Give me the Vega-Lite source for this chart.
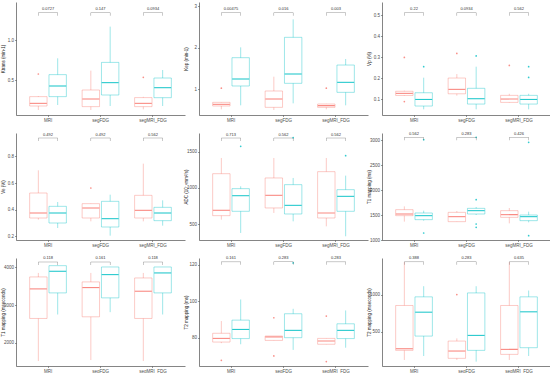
{
"$schema":"https://vega.github.io/schema/vega-lite/v6.json",
"padding":{"left":0,"top":2,"right":0,"bottom":0},
"autosize":{"type":"pad"},
"spacing":9,
"datasets":{
"box":[
{"p":"P1","g":"MRI","c":"A","lo":0.125,"q1":0.175,"md":0.208,"q3":0.292,"hi":0.30},
{"p":"P1","g":"MRI","c":"B","lo":0.1875,"q1":0.292,"md":0.425,"q3":0.567,"hi":0.771},
{"p":"P1","g":"segFDG","c":"A","lo":0.125,"q1":0.167,"md":0.2625,"q3":0.375,"hi":0.617},
{"p":"P1","g":"segFDG","c":"B","lo":0.175,"q1":0.3125,"md":0.467,"q3":0.72,"hi":1.167},
{"p":"P1","g":"segMRI_FDG","c":"A","lo":0.133,"q1":0.167,"md":0.208,"q3":0.28,"hi":0.29},
{"p":"P1","g":"segMRI_FDG","c":"B","lo":0.175,"q1":0.279,"md":0.404,"q3":0.525,"hi":0.625},
{"p":"P2","g":"MRI","c":"A","lo":0.508,"q1":0.589,"md":0.629,"q3":0.677,"hi":0.68},
{"p":"P2","g":"MRI","c":"B","lo":0.605,"q1":1.073,"md":1.242,"q3":1.758,"hi":2.008},
{"p":"P2","g":"segFDG","c":"A","lo":0.492,"q1":0.556,"md":0.758,"q3":0.952,"hi":1.298},
{"p":"P2","g":"segFDG","c":"B","lo":0.653,"q1":1.137,"md":1.363,"q3":2.25,"hi":2.685},
{"p":"P2","g":"segMRI_FDG","c":"A","lo":0.508,"q1":0.556,"md":0.597,"q3":0.637,"hi":0.64},
{"p":"P2","g":"segMRI_FDG","c":"B","lo":0.605,"q1":0.919,"md":1.161,"q3":1.58,"hi":1.726},
{"p":"P3","g":"MRI","c":"A","lo":0.115,"q1":0.117,"md":0.127,"q3":0.137,"hi":0.14},
{"p":"P3","g":"MRI","c":"B","lo":0.051,"q1":0.0667,"md":0.098,"q3":0.130,"hi":0.2016},
{"p":"P3","g":"segFDG","c":"A","lo":0.116,"q1":0.125,"md":0.146,"q3":0.2,"hi":0.219},
{"p":"P3","g":"segFDG","c":"B","lo":0.051,"q1":0.076,"md":0.1016,"q3":0.151,"hi":0.254},
{"p":"P3","g":"segMRI_FDG","c":"A","lo":0.083,"q1":0.084,"md":0.1,"q3":0.1175,"hi":0.125},
{"p":"P3","g":"segMRI_FDG","c":"B","lo":0.051,"q1":0.076,"md":0.098,"q3":0.1175,"hi":0.125},
{"p":"P4","g":"MRI","c":"A","lo":0.325,"q1":0.3375,"md":0.375,"q3":0.525,"hi":0.695},
{"p":"P4","g":"MRI","c":"B","lo":0.2625,"q1":0.3,"md":0.375,"q3":0.425,"hi":0.4575},
{"p":"P4","g":"segFDG","c":"A","lo":0.3125,"q1":0.3375,"md":0.4125,"q3":0.445,"hi":0.445},
{"p":"P4","g":"segFDG","c":"B","lo":0.205,"q1":0.27,"md":0.3325,"q3":0.4625,"hi":0.5125},
{"p":"P4","g":"segMRI_FDG","c":"A","lo":0.3125,"q1":0.3375,"md":0.395,"q3":0.5075,"hi":0.745},
{"p":"P4","g":"segMRI_FDG","c":"B","lo":0.28,"q1":0.3175,"md":0.375,"q3":0.4175,"hi":0.47},
{"p":"P5","g":"MRI","c":"A","lo":564,"q1":619,"md":693,"q3":1197,"hi":1413},
{"p":"P5","g":"MRI","c":"B","lo":381,"q1":679,"md":894,"q3":991,"hi":1023},
{"p":"P5","g":"segFDG","c":"A","lo":656,"q1":725,"md":899,"q3":1138,"hi":1413},
{"p":"P5","g":"segFDG","c":"B","lo":541,"q1":642,"md":761,"q3":1046,"hi":1138},
{"p":"P5","g":"segMRI_FDG","c":"A","lo":472,"q1":587,"md":656,"q3":1225,"hi":1413},
{"p":"P5","g":"segMRI_FDG","c":"B","lo":335,"q1":679,"md":885,"q3":977,"hi":1170},
{"p":"P6","g":"MRI","c":"A","lo":1367,"q1":1487,"md":1520,"q3":1607,"hi":1673},
{"p":"P6","g":"MRI","c":"B","lo":1387,"q1":1407,"md":1487,"q3":1540,"hi":1587},
{"p":"P6","g":"segFDG","c":"A","lo":1367,"q1":1367,"md":1467,"q3":1553,"hi":1580},
{"p":"P6","g":"segFDG","c":"B","lo":1500,"q1":1520,"md":1587,"q3":1633,"hi":1660},
{"p":"P6","g":"segMRI_FDG","c":"A","lo":1333,"q1":1453,"md":1507,"q3":1587,"hi":1640},
{"p":"P6","g":"segMRI_FDG","c":"B","lo":1353,"q1":1387,"md":1467,"q3":1500,"hi":1567},
{"p":"P7","g":"MRI","c":"A","lo":1520,"q1":2648,"md":3432,"q3":3749,"hi":3855},
{"p":"P7","g":"MRI","c":"B","lo":2753,"q1":3326,"md":3899,"q3":4048,"hi":4048},
{"p":"P7","g":"segFDG","c":"A","lo":1546,"q1":2692,"md":3467,"q3":3617,"hi":3855},
{"p":"P7","g":"segFDG","c":"B","lo":2815,"q1":3194,"md":3811,"q3":4013,"hi":4013},
{"p":"P7","g":"segMRI_FDG","c":"A","lo":1520,"q1":2648,"md":3370,"q3":3722,"hi":3855},
{"p":"P7","g":"segMRI_FDG","c":"B","lo":2753,"q1":3326,"md":3855,"q3":4013,"hi":4013},
{"p":"P8","g":"MRI","c":"A","lo":77,"q1":77.6,"md":79.6,"q3":82.4,"hi":89.1},
{"p":"P8","g":"MRI","c":"B","lo":76.4,"q1":79.5,"md":84.5,"q3":89.6,"hi":100.9},
{"p":"P8","g":"segFDG","c":"A","lo":78.5,"q1":78.5,"md":80.4,"q3":80.9,"hi":80.9},
{"p":"P8","g":"segFDG","c":"B","lo":73.3,"q1":80,"md":84,"q3":93.1,"hi":95.8},
{"p":"P8","g":"segMRI_FDG","c":"A","lo":76.4,"q1":76.4,"md":78.2,"q3":79.6,"hi":79.6},
{"p":"P8","g":"segMRI_FDG","c":"B","lo":74.5,"q1":79.5,"md":84,"q3":87.6,"hi":94.9},
{"p":"P9","g":"MRI","c":"A","lo":121,"q1":250,"md":272,"q3":853,"hi":1437},
{"p":"P9","g":"MRI","c":"B","lo":174,"q1":442,"md":763,"q3":969,"hi":1112},
{"p":"P9","g":"segFDG","c":"A","lo":121,"q1":143,"md":241,"q3":375,"hi":411},
{"p":"P9","g":"segFDG","c":"B","lo":98,"q1":250,"md":451,"q3":1022,"hi":1112},
{"p":"P9","g":"segMRI_FDG","c":"A","lo":121,"q1":196,"md":263,"q3":853,"hi":1437},
{"p":"P9","g":"segMRI_FDG","c":"B","lo":174,"q1":286,"md":768,"q3":969,"hi":1054}
],
"out":[
{"p":"P1","g":"MRI","c":"A","v":0.575},
{"p":"P1","g":"segMRI_FDG","c":"A","v":0.533},
{"p":"P2","g":"MRI","c":"A","v":1.02},
{"p":"P2","g":"segMRI_FDG","c":"A","v":1.02},
{"p":"P3","g":"MRI","c":"A","v":0.298},
{"p":"P3","g":"MRI","c":"A","v":0.088},
{"p":"P3","g":"MRI","c":"B","v":0.254},
{"p":"P3","g":"segFDG","c":"A","v":0.317},
{"p":"P3","g":"segFDG","c":"B","v":0.305},
{"p":"P3","g":"segMRI_FDG","c":"A","v":0.26},
{"p":"P3","g":"segMRI_FDG","c":"B","v":0.254},
{"p":"P3","g":"segMRI_FDG","c":"B","v":0.203},
{"p":"P4","g":"segFDG","c":"A","v":0.5625},
{"p":"P5","g":"MRI","c":"B","v":1573},
{"p":"P5","g":"segFDG","c":"B","v":1693},
{"p":"P5","g":"segMRI_FDG","c":"B","v":1445},
{"p":"P6","g":"MRI","c":"B","v":3007},
{"p":"P6","g":"MRI","c":"B","v":1140},
{"p":"P6","g":"segFDG","c":"B","v":3053},
{"p":"P6","g":"segFDG","c":"B","v":1807},
{"p":"P6","g":"segFDG","c":"B","v":1320},
{"p":"P6","g":"segFDG","c":"B","v":1253},
{"p":"P6","g":"segMRI_FDG","c":"B","v":2953},
{"p":"P6","g":"segMRI_FDG","c":"B","v":1087},
{"p":"P8","g":"MRI","c":"A","v":67.6},
{"p":"P8","g":"segFDG","c":"A","v":90.9},
{"p":"P8","g":"segFDG","c":"A","v":70},
{"p":"P8","g":"segFDG","c":"B","v":120.9},
{"p":"P8","g":"segMRI_FDG","c":"A","v":91.8},
{"p":"P8","g":"segMRI_FDG","c":"A","v":66.9},
{"p":"P9","g":"segFDG","c":"A","v":1000}
],
"pv":[
{"p":"P1","g":"MRI","b":1.342,"t":"0.0727"},
{"p":"P1","g":"segFDG","b":1.342,"t":"0.147"},
{"p":"P1","g":"segMRI_FDG","b":1.342,"t":"0.0934"},
{"p":"P2","g":"MRI","b":2.847,"t":"0.00475"},
{"p":"P2","g":"segFDG","b":2.847,"t":"0.016"},
{"p":"P2","g":"segMRI_FDG","b":2.847,"t":"0.003"},
{"p":"P3","g":"MRI","b":0.511,"t":"0.22"},
{"p":"P3","g":"segFDG","b":0.511,"t":"0.0934"},
{"p":"P3","g":"segMRI_FDG","b":0.511,"t":"0.562"},
{"p":"P4","g":"MRI","b":0.9375,"t":"0.492"},
{"p":"P4","g":"segFDG","b":0.9375,"t":"0.492"},
{"p":"P4","g":"segMRI_FDG","b":0.9375,"t":"0.562"},
{"p":"P5","g":"MRI","b":1688,"t":"0.713"},
{"p":"P5","g":"segFDG","b":1688,"t":"0.562"},
{"p":"P5","g":"segMRI_FDG","b":1688,"t":"0.562"},
{"p":"P6","g":"MRI","b":3053,"t":"0.562"},
{"p":"P6","g":"segFDG","b":3053,"t":"0.283"},
{"p":"P6","g":"segMRI_FDG","b":3053,"t":"0.426"},
{"p":"P7","g":"MRI","b":4145,"t":"0.118"},
{"p":"P7","g":"segFDG","b":4145,"t":"0.161"},
{"p":"P7","g":"segMRI_FDG","b":4145,"t":"0.118"},
{"p":"P8","g":"MRI","b":121.5,"t":"0.161"},
{"p":"P8","g":"segFDG","b":121.5,"t":"0.283"},
{"p":"P8","g":"segMRI_FDG","b":121.5,"t":"0.283"},
{"p":"P9","g":"MRI","b":1440,"t":"0.388"},
{"p":"P9","g":"segFDG","b":1440,"t":"0.283"},
{"p":"P9","g":"segMRI_FDG","b":1440,"t":"0.635"}
]
},
"vconcat":[
{"hconcat":[
{"width":169,"height":113,"resolve":{"axis":{"y":"independent"}},"encoding":{"x":{"field":"g","type":"nominal","sort":["MRI","segFDG","segMRI_FDG"],"scale":{"domain":["MRI","segFDG","segMRI_FDG"],"paddingInner":0.3,"paddingOuter":0.26},"axis":{"title":null,"labelAngle":0}}},
"layer":[
{"data":{"name":"box"},"transform":[{"filter":"datum.p=='P1'"}],"mark":{"type":"rule","strokeWidth":0.7,"opacity":0.55},"encoding":{"xOffset":{"field":"c","type":"nominal","scale":{"domain":["A","B"],"paddingInner":0.1}},"y":{"field":"lo","type":"quantitative","scale":{"domain":[0.0625,1.475],"nice":false,"zero":false},"axis":{"title":"Ktrans (min-1)","values":[0.5,1.0],"format":".1f"}},"y2":{"field":"hi"},"color":{"field":"c","type":"nominal","scale":{"domain":["A","B"],"range":["#F8766D","#00BFC4"]},"legend":null}}},
{"data":{"name":"box"},"transform":[{"filter":"datum.p=='P1'"}],"mark":{"type":"bar","fill":"white","strokeWidth":0.7,"strokeOpacity":0.55},"encoding":{"xOffset":{"field":"c","type":"nominal","scale":{"domain":["A","B"],"paddingInner":0.1}},"y":{"field":"q1","type":"quantitative","scale":{"domain":[0.0625,1.475],"nice":false,"zero":false},"axis":null},"y2":{"field":"q3"},"stroke":{"field":"c","type":"nominal","scale":{"domain":["A","B"],"range":["#F8766D","#00BFC4"]},"legend":null}}},
{"data":{"name":"box"},"transform":[{"filter":"datum.p=='P1'"}],"mark":{"type":"tick","orient":"horizontal","size":17,"thickness":1.1,"opacity":0.85},"encoding":{"xOffset":{"field":"c","type":"nominal","scale":{"domain":["A","B"],"paddingInner":0.1}},"y":{"field":"md","type":"quantitative","scale":{"domain":[0.0625,1.475],"nice":false,"zero":false},"axis":null},"color":{"field":"c","type":"nominal","scale":{"domain":["A","B"],"range":["#F8766D","#00BFC4"]},"legend":null}}},
{"data":{"name":"out"},"transform":[{"filter":"datum.p=='P1'"}],"mark":{"type":"circle","size":3,"opacity":0.8},"encoding":{"xOffset":{"field":"c","type":"nominal","scale":{"domain":["A","B"],"paddingInner":0.1}},"y":{"field":"v","type":"quantitative","scale":{"domain":[0.0625,1.475],"nice":false,"zero":false},"axis":null},"color":{"field":"c","type":"nominal","scale":{"domain":["A","B"],"range":["#F8766D","#00BFC4"]},"legend":null}}},
{"data":{"name":"pv"},"transform":[{"filter":"datum.p=='P1'"}],"mark":{"type":"tick","orient":"horizontal","size":19.3,"thickness":0.5,"color":"#666"},"encoding":{"y":{"field":"b","type":"quantitative","scale":{"domain":[0.0625,1.475],"nice":false,"zero":false},"axis":null}}},
{"data":{"name":"pv"},"transform":[{"filter":"datum.p=='P1'"}],"mark":{"type":"tick","orient":"vertical","size":3,"thickness":0.5,"xOffset":-9.7,"yOffset":1.5,"color":"#666"},"encoding":{"y":{"field":"b","type":"quantitative","scale":{"domain":[0.0625,1.475],"nice":false,"zero":false},"axis":null}}},
{"data":{"name":"pv"},"transform":[{"filter":"datum.p=='P1'"}],"mark":{"type":"tick","orient":"vertical","size":3,"thickness":0.5,"xOffset":9.7,"yOffset":1.5,"color":"#666"},"encoding":{"y":{"field":"b","type":"quantitative","scale":{"domain":[0.0625,1.475],"nice":false,"zero":false},"axis":null}}},
{"data":{"name":"pv"},"transform":[{"filter":"datum.p=='P1'"}],"mark":{"type":"text","fontSize":4,"dy":-3.5,"color":"#333"},"encoding":{"y":{"field":"b","type":"quantitative","scale":{"domain":[0.0625,1.475],"nice":false,"zero":false},"axis":null},"text":{"field":"t"}}}
]},
{"width":169,"height":113,"resolve":{"axis":{"y":"independent"}},"encoding":{"x":{"field":"g","type":"nominal","sort":["MRI","segFDG","segMRI_FDG"],"scale":{"domain":["MRI","segFDG","segMRI_FDG"],"paddingInner":0.3,"paddingOuter":0.26},"axis":{"title":null,"labelAngle":0}}},
"layer":[
{"data":{"name":"box"},"transform":[{"filter":"datum.p=='P2'"}],"mark":{"type":"rule","strokeWidth":0.7,"opacity":0.55},"encoding":{"xOffset":{"field":"c","type":"nominal","scale":{"domain":["A","B"],"paddingInner":0.1}},"y":{"field":"lo","type":"quantitative","scale":{"domain":[0.371,3.105],"nice":false,"zero":false},"axis":{"title":"Kep (min-1)","values":[1,2,3],"format":"d"}},"y2":{"field":"hi"},"color":{"field":"c","type":"nominal","scale":{"domain":["A","B"],"range":["#F8766D","#00BFC4"]},"legend":null}}},
{"data":{"name":"box"},"transform":[{"filter":"datum.p=='P2'"}],"mark":{"type":"bar","fill":"white","strokeWidth":0.7,"strokeOpacity":0.55},"encoding":{"xOffset":{"field":"c","type":"nominal","scale":{"domain":["A","B"],"paddingInner":0.1}},"y":{"field":"q1","type":"quantitative","scale":{"domain":[0.371,3.105],"nice":false,"zero":false},"axis":null},"y2":{"field":"q3"},"stroke":{"field":"c","type":"nominal","scale":{"domain":["A","B"],"range":["#F8766D","#00BFC4"]},"legend":null}}},
{"data":{"name":"box"},"transform":[{"filter":"datum.p=='P2'"}],"mark":{"type":"tick","orient":"horizontal","size":17,"thickness":1.1,"opacity":0.85},"encoding":{"xOffset":{"field":"c","type":"nominal","scale":{"domain":["A","B"],"paddingInner":0.1}},"y":{"field":"md","type":"quantitative","scale":{"domain":[0.371,3.105],"nice":false,"zero":false},"axis":null},"color":{"field":"c","type":"nominal","scale":{"domain":["A","B"],"range":["#F8766D","#00BFC4"]},"legend":null}}},
{"data":{"name":"out"},"transform":[{"filter":"datum.p=='P2'"}],"mark":{"type":"circle","size":3,"opacity":0.8},"encoding":{"xOffset":{"field":"c","type":"nominal","scale":{"domain":["A","B"],"paddingInner":0.1}},"y":{"field":"v","type":"quantitative","scale":{"domain":[0.371,3.105],"nice":false,"zero":false},"axis":null},"color":{"field":"c","type":"nominal","scale":{"domain":["A","B"],"range":["#F8766D","#00BFC4"]},"legend":null}}},
{"data":{"name":"pv"},"transform":[{"filter":"datum.p=='P2'"}],"mark":{"type":"tick","orient":"horizontal","size":19.3,"thickness":0.5,"color":"#666"},"encoding":{"y":{"field":"b","type":"quantitative","scale":{"domain":[0.371,3.105],"nice":false,"zero":false},"axis":null}}},
{"data":{"name":"pv"},"transform":[{"filter":"datum.p=='P2'"}],"mark":{"type":"tick","orient":"vertical","size":3,"thickness":0.5,"xOffset":-9.7,"yOffset":1.5,"color":"#666"},"encoding":{"y":{"field":"b","type":"quantitative","scale":{"domain":[0.371,3.105],"nice":false,"zero":false},"axis":null}}},
{"data":{"name":"pv"},"transform":[{"filter":"datum.p=='P2'"}],"mark":{"type":"tick","orient":"vertical","size":3,"thickness":0.5,"xOffset":9.7,"yOffset":1.5,"color":"#666"},"encoding":{"y":{"field":"b","type":"quantitative","scale":{"domain":[0.371,3.105],"nice":false,"zero":false},"axis":null}}},
{"data":{"name":"pv"},"transform":[{"filter":"datum.p=='P2'"}],"mark":{"type":"text","fontSize":4,"dy":-3.5,"color":"#333"},"encoding":{"y":{"field":"b","type":"quantitative","scale":{"domain":[0.371,3.105],"nice":false,"zero":false},"axis":null},"text":{"field":"t"}}}
]},
{"width":169,"height":113,"resolve":{"axis":{"y":"independent"}},"encoding":{"x":{"field":"g","type":"nominal","sort":["MRI","segFDG","segMRI_FDG"],"scale":{"domain":["MRI","segFDG","segMRI_FDG"],"paddingInner":0.3,"paddingOuter":0.26},"axis":{"title":null,"labelAngle":0}}},
"layer":[
{"data":{"name":"box"},"transform":[{"filter":"datum.p=='P3'"}],"mark":{"type":"rule","strokeWidth":0.7,"opacity":0.55},"encoding":{"xOffset":{"field":"c","type":"nominal","scale":{"domain":["A","B"],"paddingInner":0.1}},"y":{"field":"lo","type":"quantitative","scale":{"domain":[0.024,0.562],"nice":false,"zero":false},"axis":{"title":"Vp (%)","values":[0.1,0.2,0.3,0.4,0.5],"format":".1f"}},"y2":{"field":"hi"},"color":{"field":"c","type":"nominal","scale":{"domain":["A","B"],"range":["#F8766D","#00BFC4"]},"legend":null}}},
{"data":{"name":"box"},"transform":[{"filter":"datum.p=='P3'"}],"mark":{"type":"bar","fill":"white","strokeWidth":0.7,"strokeOpacity":0.55},"encoding":{"xOffset":{"field":"c","type":"nominal","scale":{"domain":["A","B"],"paddingInner":0.1}},"y":{"field":"q1","type":"quantitative","scale":{"domain":[0.024,0.562],"nice":false,"zero":false},"axis":null},"y2":{"field":"q3"},"stroke":{"field":"c","type":"nominal","scale":{"domain":["A","B"],"range":["#F8766D","#00BFC4"]},"legend":null}}},
{"data":{"name":"box"},"transform":[{"filter":"datum.p=='P3'"}],"mark":{"type":"tick","orient":"horizontal","size":17,"thickness":1.1,"opacity":0.85},"encoding":{"xOffset":{"field":"c","type":"nominal","scale":{"domain":["A","B"],"paddingInner":0.1}},"y":{"field":"md","type":"quantitative","scale":{"domain":[0.024,0.562],"nice":false,"zero":false},"axis":null},"color":{"field":"c","type":"nominal","scale":{"domain":["A","B"],"range":["#F8766D","#00BFC4"]},"legend":null}}},
{"data":{"name":"out"},"transform":[{"filter":"datum.p=='P3'"}],"mark":{"type":"circle","size":3,"opacity":0.8},"encoding":{"xOffset":{"field":"c","type":"nominal","scale":{"domain":["A","B"],"paddingInner":0.1}},"y":{"field":"v","type":"quantitative","scale":{"domain":[0.024,0.562],"nice":false,"zero":false},"axis":null},"color":{"field":"c","type":"nominal","scale":{"domain":["A","B"],"range":["#F8766D","#00BFC4"]},"legend":null}}},
{"data":{"name":"pv"},"transform":[{"filter":"datum.p=='P3'"}],"mark":{"type":"tick","orient":"horizontal","size":19.3,"thickness":0.5,"color":"#666"},"encoding":{"y":{"field":"b","type":"quantitative","scale":{"domain":[0.024,0.562],"nice":false,"zero":false},"axis":null}}},
{"data":{"name":"pv"},"transform":[{"filter":"datum.p=='P3'"}],"mark":{"type":"tick","orient":"vertical","size":3,"thickness":0.5,"xOffset":-9.7,"yOffset":1.5,"color":"#666"},"encoding":{"y":{"field":"b","type":"quantitative","scale":{"domain":[0.024,0.562],"nice":false,"zero":false},"axis":null}}},
{"data":{"name":"pv"},"transform":[{"filter":"datum.p=='P3'"}],"mark":{"type":"tick","orient":"vertical","size":3,"thickness":0.5,"xOffset":9.7,"yOffset":1.5,"color":"#666"},"encoding":{"y":{"field":"b","type":"quantitative","scale":{"domain":[0.024,0.562],"nice":false,"zero":false},"axis":null}}},
{"data":{"name":"pv"},"transform":[{"filter":"datum.p=='P3'"}],"mark":{"type":"text","fontSize":4,"dy":-3.5,"color":"#333"},"encoding":{"y":{"field":"b","type":"quantitative","scale":{"domain":[0.024,0.562],"nice":false,"zero":false},"axis":null},"text":{"field":"t"}}}
]}
],"spacing":14,"bounds":"flush"},
{"hconcat":[
{"width":169,"height":107,"resolve":{"axis":{"y":"independent"}},"encoding":{"x":{"field":"g","type":"nominal","sort":["MRI","segFDG","segMRI_FDG"],"scale":{"domain":["MRI","segFDG","segMRI_FDG"],"paddingInner":0.3,"paddingOuter":0.26},"axis":{"title":null,"labelAngle":0}}},
"layer":[
{"data":{"name":"box"},"transform":[{"filter":"datum.p=='P4'"}],"mark":{"type":"rule","strokeWidth":0.7,"opacity":0.55},"encoding":{"xOffset":{"field":"c","type":"nominal","scale":{"domain":["A","B"],"paddingInner":0.1}},"y":{"field":"lo","type":"quantitative","scale":{"domain":[0.1725,0.975],"nice":false,"zero":false},"axis":{"title":"Ve (%)","values":[0.2,0.4,0.6,0.8],"format":".1f"}},"y2":{"field":"hi"},"color":{"field":"c","type":"nominal","scale":{"domain":["A","B"],"range":["#F8766D","#00BFC4"]},"legend":null}}},
{"data":{"name":"box"},"transform":[{"filter":"datum.p=='P4'"}],"mark":{"type":"bar","fill":"white","strokeWidth":0.7,"strokeOpacity":0.55},"encoding":{"xOffset":{"field":"c","type":"nominal","scale":{"domain":["A","B"],"paddingInner":0.1}},"y":{"field":"q1","type":"quantitative","scale":{"domain":[0.1725,0.975],"nice":false,"zero":false},"axis":null},"y2":{"field":"q3"},"stroke":{"field":"c","type":"nominal","scale":{"domain":["A","B"],"range":["#F8766D","#00BFC4"]},"legend":null}}},
{"data":{"name":"box"},"transform":[{"filter":"datum.p=='P4'"}],"mark":{"type":"tick","orient":"horizontal","size":17,"thickness":1.1,"opacity":0.85},"encoding":{"xOffset":{"field":"c","type":"nominal","scale":{"domain":["A","B"],"paddingInner":0.1}},"y":{"field":"md","type":"quantitative","scale":{"domain":[0.1725,0.975],"nice":false,"zero":false},"axis":null},"color":{"field":"c","type":"nominal","scale":{"domain":["A","B"],"range":["#F8766D","#00BFC4"]},"legend":null}}},
{"data":{"name":"out"},"transform":[{"filter":"datum.p=='P4'"}],"mark":{"type":"circle","size":3,"opacity":0.8},"encoding":{"xOffset":{"field":"c","type":"nominal","scale":{"domain":["A","B"],"paddingInner":0.1}},"y":{"field":"v","type":"quantitative","scale":{"domain":[0.1725,0.975],"nice":false,"zero":false},"axis":null},"color":{"field":"c","type":"nominal","scale":{"domain":["A","B"],"range":["#F8766D","#00BFC4"]},"legend":null}}},
{"data":{"name":"pv"},"transform":[{"filter":"datum.p=='P4'"}],"mark":{"type":"tick","orient":"horizontal","size":19.3,"thickness":0.5,"color":"#666"},"encoding":{"y":{"field":"b","type":"quantitative","scale":{"domain":[0.1725,0.975],"nice":false,"zero":false},"axis":null}}},
{"data":{"name":"pv"},"transform":[{"filter":"datum.p=='P4'"}],"mark":{"type":"tick","orient":"vertical","size":3,"thickness":0.5,"xOffset":-9.7,"yOffset":1.5,"color":"#666"},"encoding":{"y":{"field":"b","type":"quantitative","scale":{"domain":[0.1725,0.975],"nice":false,"zero":false},"axis":null}}},
{"data":{"name":"pv"},"transform":[{"filter":"datum.p=='P4'"}],"mark":{"type":"tick","orient":"vertical","size":3,"thickness":0.5,"xOffset":9.7,"yOffset":1.5,"color":"#666"},"encoding":{"y":{"field":"b","type":"quantitative","scale":{"domain":[0.1725,0.975],"nice":false,"zero":false},"axis":null}}},
{"data":{"name":"pv"},"transform":[{"filter":"datum.p=='P4'"}],"mark":{"type":"text","fontSize":4,"dy":-3.5,"color":"#333"},"encoding":{"y":{"field":"b","type":"quantitative","scale":{"domain":[0.1725,0.975],"nice":false,"zero":false},"axis":null},"text":{"field":"t"}}}
]},
{"width":169,"height":107,"resolve":{"axis":{"y":"independent"}},"encoding":{"x":{"field":"g","type":"nominal","sort":["MRI","segFDG","segMRI_FDG"],"scale":{"domain":["MRI","segFDG","segMRI_FDG"],"paddingInner":0.3,"paddingOuter":0.26},"axis":{"title":null,"labelAngle":0}}},
"layer":[
{"data":{"name":"box"},"transform":[{"filter":"datum.p=='P5'"}],"mark":{"type":"rule","strokeWidth":0.7,"opacity":0.55},"encoding":{"xOffset":{"field":"c","type":"nominal","scale":{"domain":["A","B"],"paddingInner":0.1}},"y":{"field":"lo","type":"quantitative","scale":{"domain":[284,1757],"nice":false,"zero":false},"axis":{"title":"ADC (10⁻⁶mm²/s)","values":[500,1000,1500],"format":"d"}},"y2":{"field":"hi"},"color":{"field":"c","type":"nominal","scale":{"domain":["A","B"],"range":["#F8766D","#00BFC4"]},"legend":null}}},
{"data":{"name":"box"},"transform":[{"filter":"datum.p=='P5'"}],"mark":{"type":"bar","fill":"white","strokeWidth":0.7,"strokeOpacity":0.55},"encoding":{"xOffset":{"field":"c","type":"nominal","scale":{"domain":["A","B"],"paddingInner":0.1}},"y":{"field":"q1","type":"quantitative","scale":{"domain":[284,1757],"nice":false,"zero":false},"axis":null},"y2":{"field":"q3"},"stroke":{"field":"c","type":"nominal","scale":{"domain":["A","B"],"range":["#F8766D","#00BFC4"]},"legend":null}}},
{"data":{"name":"box"},"transform":[{"filter":"datum.p=='P5'"}],"mark":{"type":"tick","orient":"horizontal","size":17,"thickness":1.1,"opacity":0.85},"encoding":{"xOffset":{"field":"c","type":"nominal","scale":{"domain":["A","B"],"paddingInner":0.1}},"y":{"field":"md","type":"quantitative","scale":{"domain":[284,1757],"nice":false,"zero":false},"axis":null},"color":{"field":"c","type":"nominal","scale":{"domain":["A","B"],"range":["#F8766D","#00BFC4"]},"legend":null}}},
{"data":{"name":"out"},"transform":[{"filter":"datum.p=='P5'"}],"mark":{"type":"circle","size":3,"opacity":0.8},"encoding":{"xOffset":{"field":"c","type":"nominal","scale":{"domain":["A","B"],"paddingInner":0.1}},"y":{"field":"v","type":"quantitative","scale":{"domain":[284,1757],"nice":false,"zero":false},"axis":null},"color":{"field":"c","type":"nominal","scale":{"domain":["A","B"],"range":["#F8766D","#00BFC4"]},"legend":null}}},
{"data":{"name":"pv"},"transform":[{"filter":"datum.p=='P5'"}],"mark":{"type":"tick","orient":"horizontal","size":19.3,"thickness":0.5,"color":"#666"},"encoding":{"y":{"field":"b","type":"quantitative","scale":{"domain":[284,1757],"nice":false,"zero":false},"axis":null}}},
{"data":{"name":"pv"},"transform":[{"filter":"datum.p=='P5'"}],"mark":{"type":"tick","orient":"vertical","size":3,"thickness":0.5,"xOffset":-9.7,"yOffset":1.5,"color":"#666"},"encoding":{"y":{"field":"b","type":"quantitative","scale":{"domain":[284,1757],"nice":false,"zero":false},"axis":null}}},
{"data":{"name":"pv"},"transform":[{"filter":"datum.p=='P5'"}],"mark":{"type":"tick","orient":"vertical","size":3,"thickness":0.5,"xOffset":9.7,"yOffset":1.5,"color":"#666"},"encoding":{"y":{"field":"b","type":"quantitative","scale":{"domain":[284,1757],"nice":false,"zero":false},"axis":null}}},
{"data":{"name":"pv"},"transform":[{"filter":"datum.p=='P5'"}],"mark":{"type":"text","fontSize":4,"dy":-3.5,"color":"#333"},"encoding":{"y":{"field":"b","type":"quantitative","scale":{"domain":[284,1757],"nice":false,"zero":false},"axis":null},"text":{"field":"t"}}}
]},
{"width":169,"height":107,"resolve":{"axis":{"y":"independent"}},"encoding":{"x":{"field":"g","type":"nominal","sort":["MRI","segFDG","segMRI_FDG"],"scale":{"domain":["MRI","segFDG","segMRI_FDG"],"paddingInner":0.3,"paddingOuter":0.26},"axis":{"title":null,"labelAngle":0}}},
"layer":[
{"data":{"name":"box"},"transform":[{"filter":"datum.p=='P6'"}],"mark":{"type":"rule","strokeWidth":0.7,"opacity":0.55},"encoding":{"xOffset":{"field":"c","type":"nominal","scale":{"domain":["A","B"],"paddingInner":0.1}},"y":{"field":"lo","type":"quantitative","scale":{"domain":[1000,3140],"nice":false,"zero":false},"axis":{"title":"T1 mapping (ms)","values":[1000,1500,2000,2500,3000],"format":"d"}},"y2":{"field":"hi"},"color":{"field":"c","type":"nominal","scale":{"domain":["A","B"],"range":["#F8766D","#00BFC4"]},"legend":null}}},
{"data":{"name":"box"},"transform":[{"filter":"datum.p=='P6'"}],"mark":{"type":"bar","fill":"white","strokeWidth":0.7,"strokeOpacity":0.55},"encoding":{"xOffset":{"field":"c","type":"nominal","scale":{"domain":["A","B"],"paddingInner":0.1}},"y":{"field":"q1","type":"quantitative","scale":{"domain":[1000,3140],"nice":false,"zero":false},"axis":null},"y2":{"field":"q3"},"stroke":{"field":"c","type":"nominal","scale":{"domain":["A","B"],"range":["#F8766D","#00BFC4"]},"legend":null}}},
{"data":{"name":"box"},"transform":[{"filter":"datum.p=='P6'"}],"mark":{"type":"tick","orient":"horizontal","size":17,"thickness":1.1,"opacity":0.85},"encoding":{"xOffset":{"field":"c","type":"nominal","scale":{"domain":["A","B"],"paddingInner":0.1}},"y":{"field":"md","type":"quantitative","scale":{"domain":[1000,3140],"nice":false,"zero":false},"axis":null},"color":{"field":"c","type":"nominal","scale":{"domain":["A","B"],"range":["#F8766D","#00BFC4"]},"legend":null}}},
{"data":{"name":"out"},"transform":[{"filter":"datum.p=='P6'"}],"mark":{"type":"circle","size":3,"opacity":0.8},"encoding":{"xOffset":{"field":"c","type":"nominal","scale":{"domain":["A","B"],"paddingInner":0.1}},"y":{"field":"v","type":"quantitative","scale":{"domain":[1000,3140],"nice":false,"zero":false},"axis":null},"color":{"field":"c","type":"nominal","scale":{"domain":["A","B"],"range":["#F8766D","#00BFC4"]},"legend":null}}},
{"data":{"name":"pv"},"transform":[{"filter":"datum.p=='P6'"}],"mark":{"type":"tick","orient":"horizontal","size":19.3,"thickness":0.5,"color":"#666"},"encoding":{"y":{"field":"b","type":"quantitative","scale":{"domain":[1000,3140],"nice":false,"zero":false},"axis":null}}},
{"data":{"name":"pv"},"transform":[{"filter":"datum.p=='P6'"}],"mark":{"type":"tick","orient":"vertical","size":3,"thickness":0.5,"xOffset":-9.7,"yOffset":1.5,"color":"#666"},"encoding":{"y":{"field":"b","type":"quantitative","scale":{"domain":[1000,3140],"nice":false,"zero":false},"axis":null}}},
{"data":{"name":"pv"},"transform":[{"filter":"datum.p=='P6'"}],"mark":{"type":"tick","orient":"vertical","size":3,"thickness":0.5,"xOffset":9.7,"yOffset":1.5,"color":"#666"},"encoding":{"y":{"field":"b","type":"quantitative","scale":{"domain":[1000,3140],"nice":false,"zero":false},"axis":null}}},
{"data":{"name":"pv"},"transform":[{"filter":"datum.p=='P6'"}],"mark":{"type":"text","fontSize":4,"dy":-3.5,"color":"#333"},"encoding":{"y":{"field":"b","type":"quantitative","scale":{"domain":[1000,3140],"nice":false,"zero":false},"axis":null},"text":{"field":"t"}}}
]}
],"spacing":14,"bounds":"flush"},
{"hconcat":[
{"width":169,"height":108,"resolve":{"axis":{"y":"independent"}},"encoding":{"x":{"field":"g","type":"nominal","sort":["MRI","segFDG","segMRI_FDG"],"scale":{"domain":["MRI","segFDG","segMRI_FDG"],"paddingInner":0.3,"paddingOuter":0.26},"axis":{"title":null,"labelAngle":0}}},
"layer":[
{"data":{"name":"box"},"transform":[{"filter":"datum.p=='P7'"}],"mark":{"type":"rule","strokeWidth":0.7,"opacity":0.55},"encoding":{"xOffset":{"field":"c","type":"nominal","scale":{"domain":["A","B"],"paddingInner":0.1}},"y":{"field":"lo","type":"quantitative","scale":{"domain":[1388,4251],"nice":false,"zero":false},"axis":{"title":"T1 mapping (mseconds)","values":[2000,3000,4000],"format":"d"}},"y2":{"field":"hi"},"color":{"field":"c","type":"nominal","scale":{"domain":["A","B"],"range":["#F8766D","#00BFC4"]},"legend":null}}},
{"data":{"name":"box"},"transform":[{"filter":"datum.p=='P7'"}],"mark":{"type":"bar","fill":"white","strokeWidth":0.7,"strokeOpacity":0.55},"encoding":{"xOffset":{"field":"c","type":"nominal","scale":{"domain":["A","B"],"paddingInner":0.1}},"y":{"field":"q1","type":"quantitative","scale":{"domain":[1388,4251],"nice":false,"zero":false},"axis":null},"y2":{"field":"q3"},"stroke":{"field":"c","type":"nominal","scale":{"domain":["A","B"],"range":["#F8766D","#00BFC4"]},"legend":null}}},
{"data":{"name":"box"},"transform":[{"filter":"datum.p=='P7'"}],"mark":{"type":"tick","orient":"horizontal","size":17,"thickness":1.1,"opacity":0.85},"encoding":{"xOffset":{"field":"c","type":"nominal","scale":{"domain":["A","B"],"paddingInner":0.1}},"y":{"field":"md","type":"quantitative","scale":{"domain":[1388,4251],"nice":false,"zero":false},"axis":null},"color":{"field":"c","type":"nominal","scale":{"domain":["A","B"],"range":["#F8766D","#00BFC4"]},"legend":null}}},
{"data":{"name":"pv"},"transform":[{"filter":"datum.p=='P7'"}],"mark":{"type":"tick","orient":"horizontal","size":19.3,"thickness":0.5,"color":"#666"},"encoding":{"y":{"field":"b","type":"quantitative","scale":{"domain":[1388,4251],"nice":false,"zero":false},"axis":null}}},
{"data":{"name":"pv"},"transform":[{"filter":"datum.p=='P7'"}],"mark":{"type":"tick","orient":"vertical","size":3,"thickness":0.5,"xOffset":-9.7,"yOffset":1.5,"color":"#666"},"encoding":{"y":{"field":"b","type":"quantitative","scale":{"domain":[1388,4251],"nice":false,"zero":false},"axis":null}}},
{"data":{"name":"pv"},"transform":[{"filter":"datum.p=='P7'"}],"mark":{"type":"tick","orient":"vertical","size":3,"thickness":0.5,"xOffset":9.7,"yOffset":1.5,"color":"#666"},"encoding":{"y":{"field":"b","type":"quantitative","scale":{"domain":[1388,4251],"nice":false,"zero":false},"axis":null}}},
{"data":{"name":"pv"},"transform":[{"filter":"datum.p=='P7'"}],"mark":{"type":"text","fontSize":4,"dy":-3.5,"color":"#333"},"encoding":{"y":{"field":"b","type":"quantitative","scale":{"domain":[1388,4251],"nice":false,"zero":false},"axis":null},"text":{"field":"t"}}}
]},
{"width":169,"height":108,"resolve":{"axis":{"y":"independent"}},"encoding":{"x":{"field":"g","type":"nominal","sort":["MRI","segFDG","segMRI_FDG"],"scale":{"domain":["MRI","segFDG","segMRI_FDG"],"paddingInner":0.3,"paddingOuter":0.26},"axis":{"title":null,"labelAngle":0}}},
"layer":[
{"data":{"name":"box"},"transform":[{"filter":"datum.p=='P8'"}],"mark":{"type":"rule","strokeWidth":0.7,"opacity":0.55},"encoding":{"xOffset":{"field":"c","type":"nominal","scale":{"domain":["A","B"],"paddingInner":0.1}},"y":{"field":"lo","type":"quantitative","scale":{"domain":[64.5,123.6],"nice":false,"zero":false},"axis":{"title":"T2 mapping (ms)","values":[80,100,120],"format":"d"}},"y2":{"field":"hi"},"color":{"field":"c","type":"nominal","scale":{"domain":["A","B"],"range":["#F8766D","#00BFC4"]},"legend":null}}},
{"data":{"name":"box"},"transform":[{"filter":"datum.p=='P8'"}],"mark":{"type":"bar","fill":"white","strokeWidth":0.7,"strokeOpacity":0.55},"encoding":{"xOffset":{"field":"c","type":"nominal","scale":{"domain":["A","B"],"paddingInner":0.1}},"y":{"field":"q1","type":"quantitative","scale":{"domain":[64.5,123.6],"nice":false,"zero":false},"axis":null},"y2":{"field":"q3"},"stroke":{"field":"c","type":"nominal","scale":{"domain":["A","B"],"range":["#F8766D","#00BFC4"]},"legend":null}}},
{"data":{"name":"box"},"transform":[{"filter":"datum.p=='P8'"}],"mark":{"type":"tick","orient":"horizontal","size":17,"thickness":1.1,"opacity":0.85},"encoding":{"xOffset":{"field":"c","type":"nominal","scale":{"domain":["A","B"],"paddingInner":0.1}},"y":{"field":"md","type":"quantitative","scale":{"domain":[64.5,123.6],"nice":false,"zero":false},"axis":null},"color":{"field":"c","type":"nominal","scale":{"domain":["A","B"],"range":["#F8766D","#00BFC4"]},"legend":null}}},
{"data":{"name":"out"},"transform":[{"filter":"datum.p=='P8'"}],"mark":{"type":"circle","size":3,"opacity":0.8},"encoding":{"xOffset":{"field":"c","type":"nominal","scale":{"domain":["A","B"],"paddingInner":0.1}},"y":{"field":"v","type":"quantitative","scale":{"domain":[64.5,123.6],"nice":false,"zero":false},"axis":null},"color":{"field":"c","type":"nominal","scale":{"domain":["A","B"],"range":["#F8766D","#00BFC4"]},"legend":null}}},
{"data":{"name":"pv"},"transform":[{"filter":"datum.p=='P8'"}],"mark":{"type":"tick","orient":"horizontal","size":19.3,"thickness":0.5,"color":"#666"},"encoding":{"y":{"field":"b","type":"quantitative","scale":{"domain":[64.5,123.6],"nice":false,"zero":false},"axis":null}}},
{"data":{"name":"pv"},"transform":[{"filter":"datum.p=='P8'"}],"mark":{"type":"tick","orient":"vertical","size":3,"thickness":0.5,"xOffset":-9.7,"yOffset":1.5,"color":"#666"},"encoding":{"y":{"field":"b","type":"quantitative","scale":{"domain":[64.5,123.6],"nice":false,"zero":false},"axis":null}}},
{"data":{"name":"pv"},"transform":[{"filter":"datum.p=='P8'"}],"mark":{"type":"tick","orient":"vertical","size":3,"thickness":0.5,"xOffset":9.7,"yOffset":1.5,"color":"#666"},"encoding":{"y":{"field":"b","type":"quantitative","scale":{"domain":[64.5,123.6],"nice":false,"zero":false},"axis":null}}},
{"data":{"name":"pv"},"transform":[{"filter":"datum.p=='P8'"}],"mark":{"type":"text","fontSize":4,"dy":-3.5,"color":"#333"},"encoding":{"y":{"field":"b","type":"quantitative","scale":{"domain":[64.5,123.6],"nice":false,"zero":false},"axis":null},"text":{"field":"t"}}}
]},
{"width":169,"height":108,"resolve":{"axis":{"y":"independent"}},"encoding":{"x":{"field":"g","type":"nominal","sort":["MRI","segFDG","segMRI_FDG"],"scale":{"domain":["MRI","segFDG","segMRI_FDG"],"paddingInner":0.3,"paddingOuter":0.26},"axis":{"title":null,"labelAngle":0}}},
"layer":[
{"data":{"name":"box"},"transform":[{"filter":"datum.p=='P9'"}],"mark":{"type":"rule","strokeWidth":0.7,"opacity":0.55},"encoding":{"xOffset":{"field":"c","type":"nominal","scale":{"domain":["A","B"],"paddingInner":0.1}},"y":{"field":"lo","type":"quantitative","scale":{"domain":[40,1491],"nice":false,"zero":false},"axis":{"title":"T2 mapping (mseconds)","values":[500,1000],"format":"d"}},"y2":{"field":"hi"},"color":{"field":"c","type":"nominal","scale":{"domain":["A","B"],"range":["#F8766D","#00BFC4"]},"legend":null}}},
{"data":{"name":"box"},"transform":[{"filter":"datum.p=='P9'"}],"mark":{"type":"bar","fill":"white","strokeWidth":0.7,"strokeOpacity":0.55},"encoding":{"xOffset":{"field":"c","type":"nominal","scale":{"domain":["A","B"],"paddingInner":0.1}},"y":{"field":"q1","type":"quantitative","scale":{"domain":[40,1491],"nice":false,"zero":false},"axis":null},"y2":{"field":"q3"},"stroke":{"field":"c","type":"nominal","scale":{"domain":["A","B"],"range":["#F8766D","#00BFC4"]},"legend":null}}},
{"data":{"name":"box"},"transform":[{"filter":"datum.p=='P9'"}],"mark":{"type":"tick","orient":"horizontal","size":17,"thickness":1.1,"opacity":0.85},"encoding":{"xOffset":{"field":"c","type":"nominal","scale":{"domain":["A","B"],"paddingInner":0.1}},"y":{"field":"md","type":"quantitative","scale":{"domain":[40,1491],"nice":false,"zero":false},"axis":null},"color":{"field":"c","type":"nominal","scale":{"domain":["A","B"],"range":["#F8766D","#00BFC4"]},"legend":null}}},
{"data":{"name":"out"},"transform":[{"filter":"datum.p=='P9'"}],"mark":{"type":"circle","size":3,"opacity":0.8},"encoding":{"xOffset":{"field":"c","type":"nominal","scale":{"domain":["A","B"],"paddingInner":0.1}},"y":{"field":"v","type":"quantitative","scale":{"domain":[40,1491],"nice":false,"zero":false},"axis":null},"color":{"field":"c","type":"nominal","scale":{"domain":["A","B"],"range":["#F8766D","#00BFC4"]},"legend":null}}},
{"data":{"name":"pv"},"transform":[{"filter":"datum.p=='P9'"}],"mark":{"type":"tick","orient":"horizontal","size":19.3,"thickness":0.5,"color":"#666"},"encoding":{"y":{"field":"b","type":"quantitative","scale":{"domain":[40,1491],"nice":false,"zero":false},"axis":null}}},
{"data":{"name":"pv"},"transform":[{"filter":"datum.p=='P9'"}],"mark":{"type":"tick","orient":"vertical","size":3,"thickness":0.5,"xOffset":-9.7,"yOffset":1.5,"color":"#666"},"encoding":{"y":{"field":"b","type":"quantitative","scale":{"domain":[40,1491],"nice":false,"zero":false},"axis":null}}},
{"data":{"name":"pv"},"transform":[{"filter":"datum.p=='P9'"}],"mark":{"type":"tick","orient":"vertical","size":3,"thickness":0.5,"xOffset":9.7,"yOffset":1.5,"color":"#666"},"encoding":{"y":{"field":"b","type":"quantitative","scale":{"domain":[40,1491],"nice":false,"zero":false},"axis":null}}},
{"data":{"name":"pv"},"transform":[{"filter":"datum.p=='P9'"}],"mark":{"type":"text","fontSize":4,"dy":-3.5,"color":"#333"},"encoding":{"y":{"field":"b","type":"quantitative","scale":{"domain":[40,1491],"nice":false,"zero":false},"axis":null},"text":{"field":"t"}}}
]}
],"spacing":14,"bounds":"flush"}
],
"resolve":{"scale":{"y":"independent","x":"independent","color":"independent","stroke":"independent","xOffset":"independent"}},
"config":{
"view":{"stroke":null},
"font":"Liberation Sans",
"axis":{"grid":false,"domainColor":"#333333","domainWidth":0.6,"tickColor":"#333333","tickWidth":0.5,"tickSize":1.5,"labelFontSize":4.5,"labelColor":"#4d4d4d","labelPadding":1,"titleFontSize":4.5,"titleFontWeight":"normal","titleColor":"#1a1a1a"},
"axisY":{"minExtent":9,"maxExtent":9,"titlePadding":1.5}
}
}
